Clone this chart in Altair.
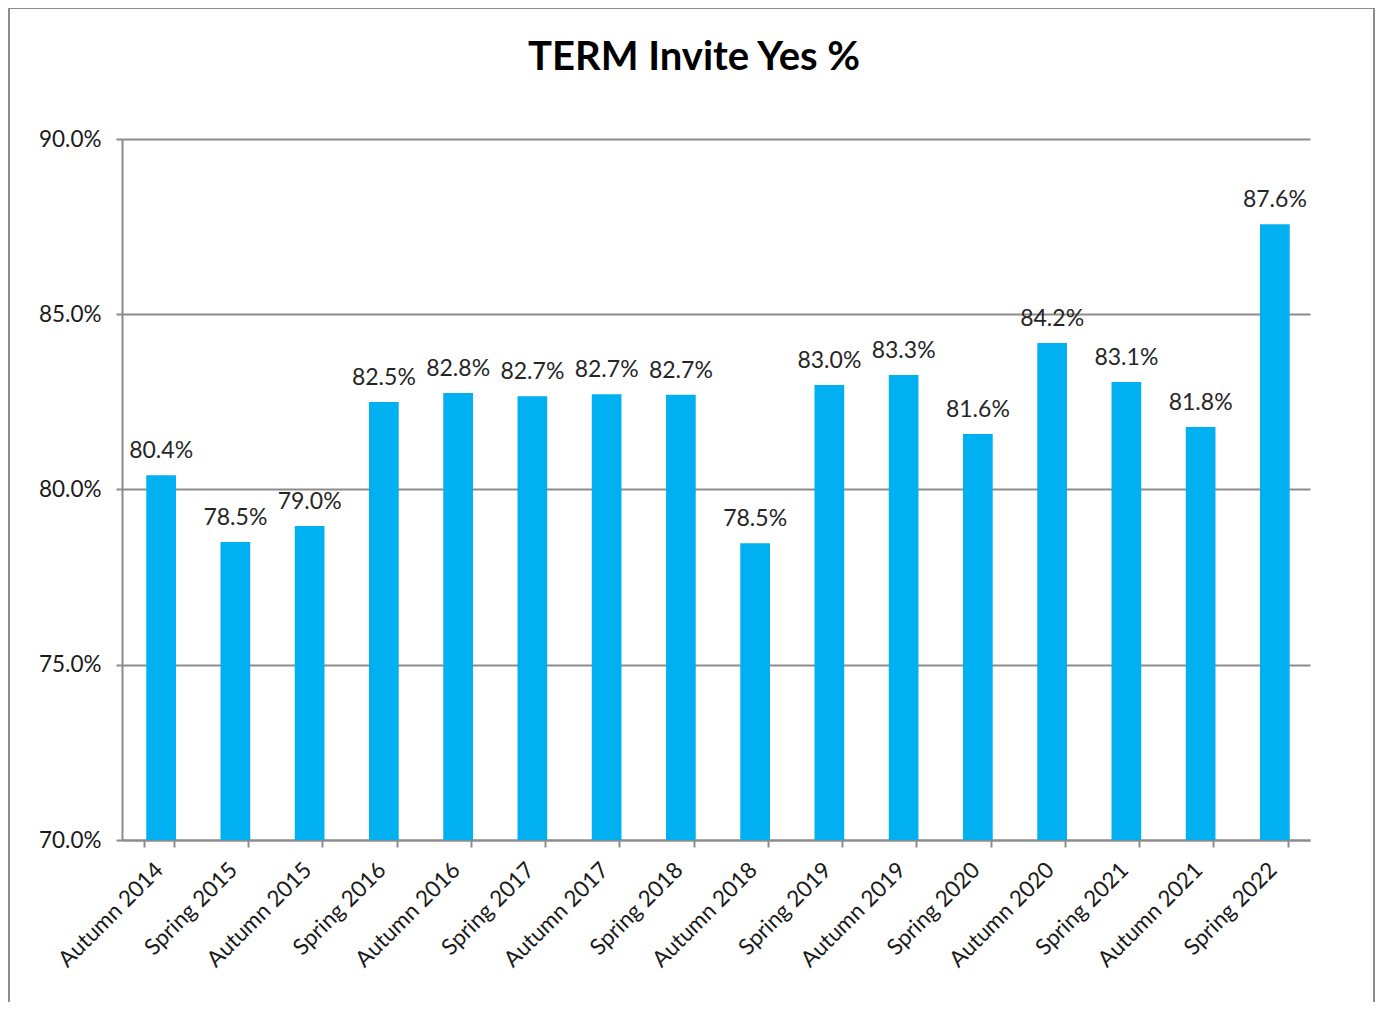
import altair as alt
import pandas as pd

terms = ["Autumn 2014", "Spring 2015", "Autumn 2015", "Spring 2016", "Autumn 2016",
         "Spring 2017", "Autumn 2017", "Spring 2018", "Autumn 2018", "Spring 2019",
         "Autumn 2019", "Spring 2020", "Autumn 2020", "Spring 2021", "Autumn 2021",
         "Spring 2022"]
yes_pct = [0.8041, 0.7850, 0.7896, 0.8250, 0.8275, 0.8266, 0.8272, 0.8270, 0.7847,
           0.8298, 0.8327, 0.8158, 0.8418, 0.8307, 0.8178, 0.8757]
y_ticks = [0.70, 0.75, 0.80, 0.85, 0.90]
title_text = ["TERM Invite Yes %"]

df = pd.DataFrame({"term": terms, "pct": yes_pct})

FONT = "Lato"
GRAY = "#8c8c8c"

base = alt.Chart(df)

x_enc = alt.X("term:N", sort=terms,
              scale=alt.Scale(paddingInner=0.6, paddingOuter=0.3),
              axis=alt.Axis(title=None, labelAngle=-45, labelAlign="right",
                            labelBaseline="middle", labelFontSize=22.5, labelFont=FONT,
                            labelColor="#1a1a1a", labelPadding=19, labelLimit=400,
                            domainColor=GRAY, domainWidth=2, tickColor=GRAY,
                            tickWidth=2, tickSize=7, tickBand="extent",
                            labelOverlap=False))
y_enc = alt.Y("pct:Q", scale=alt.Scale(domain=[0.70, 0.90], zero=False, nice=False),
              axis=alt.Axis(title=None, format=".1%", values=y_ticks, labelFontSize=22.5,
                            labelFont=FONT, labelColor="#1a1a1a", labelPadding=15,
                            domainColor=GRAY, domainWidth=2, tickColor=GRAY,
                            tickWidth=2, tickSize=6, grid=True, gridColor=GRAY,
                            gridWidth=2))

bars = base.mark_bar(color="#00B0F0", clip=True, xOffset=2).encode(x=x_enc, y=y_enc)

labels = base.mark_text(font=FONT, fontSize=23, color="#262626", baseline="alphabetic",
                        dy=-17, dx=2).encode(
    x=alt.X("term:N", sort=terms),
    y=alt.Y("pct:Q"),
    text=alt.Text("pct:Q", format=".1%"))

title = alt.Chart(pd.DataFrame({"t": title_text})).mark_text(
    font=FONT, fontSize=40, fontWeight="bold", color="#000000",
    align="center", baseline="alphabetic").encode(
    text="t:N", x=alt.value(572), y=alt.value(-69))

border = alt.Chart(pd.DataFrame({"a": [0]})).mark_rect(
    fill=None, stroke="#8c8c8c", strokeWidth=2).encode(
    x=alt.value(-113), x2=alt.value(1252), y=alt.value(-131), y2=alt.value(900))

chart = alt.layer(border, bars, labels, title).properties(
    width=1188, height=701,
    padding={"left": 114, "top": 131, "right": 66, "bottom": 162},
    autosize=alt.AutoSizeParams(type="none"),
).configure(background="white", view=alt.ViewConfig(stroke="transparent", strokeWidth=0))

chart.save("out.html", embed_options={"renderer": "svg", "actions": False})
